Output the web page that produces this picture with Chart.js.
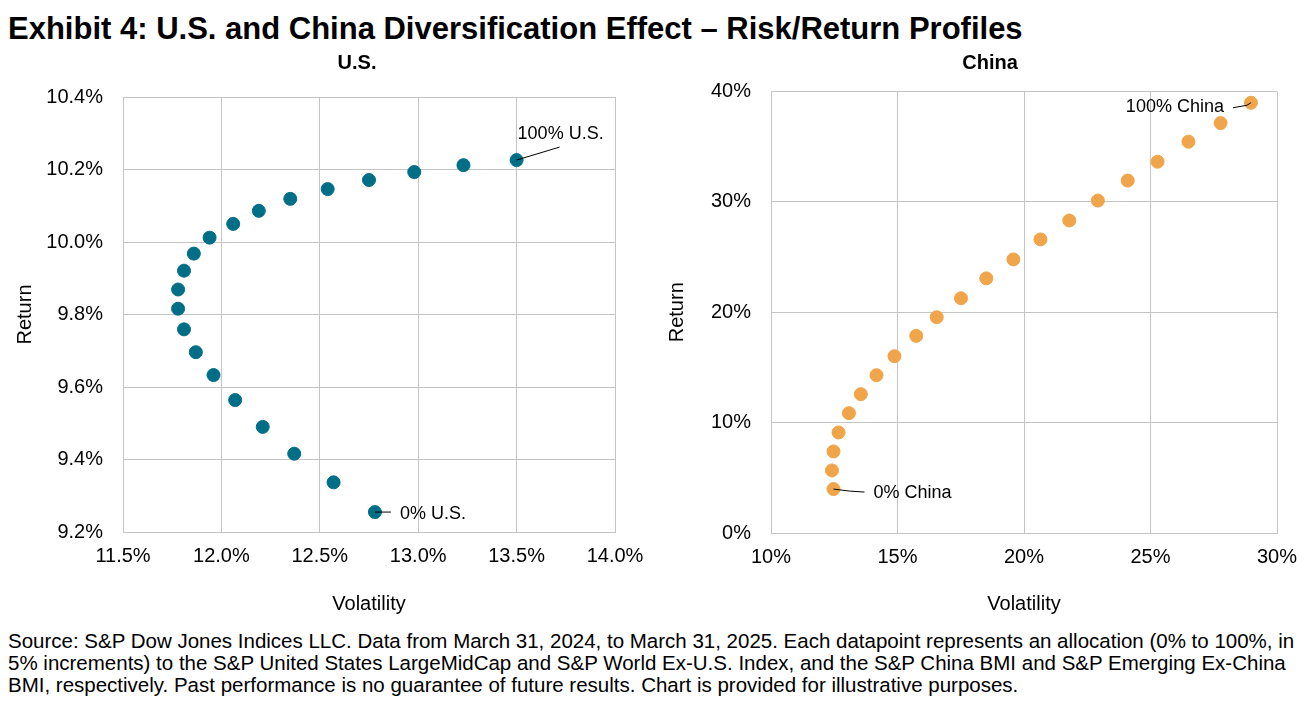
<!DOCTYPE html>
<html>
<head>
<meta charset="utf-8">
<script src="https://cdn.jsdelivr.net/npm/chart.js@4.4.1/dist/chart.umd.min.js"></script>
<style>
  body { margin: 0; background: #fff; font-family: 'Liberation Sans', Arial, sans-serif; color: #000; }
  #page { position: relative; width: 1312px; height: 713px; overflow: hidden; }
  #title { position: absolute; left: 8px; top: 11px; font-size: 31px; line-height: 36px; font-weight: bold; white-space: nowrap; }
  .panel { position: absolute; top: 40px; height: 580px; }
  #panel-us { left: 0; width: 714px; }
  #panel-cn { left: 655px; width: 670px; }
  #source { position: absolute; left: 8px; top: 630px; font-size: 20.5px; line-height: 22px; white-space: nowrap; }
</style>
</head>
<body>
<div id="page">
  <div id="title">Exhibit 4: U.S. and China Diversification Effect – Risk/Return Profiles</div>
  <div class="panel" id="panel-us"><canvas id="us-chart"></canvas></div>
  <div class="panel" id="panel-cn"><canvas id="cn-chart"></canvas></div>
  <div id="source">
    Source: S&amp;P Dow Jones Indices LLC. Data from March 31, 2024, to March 31, 2025. Each datapoint represents an allocation (0% to 100%, in<br>
    5% increments) to the S&amp;P United States LargeMidCap and S&amp;P World Ex-U.S. Index, and the S&amp;P China BMI and S&amp;P Emerging Ex-China<br>
    BMI, respectively. Past performance is no guarantee of future results. Chart is provided for illustrative purposes.
  </div>
</div>

<script>
// Allocations 0% .. 100% in 5% steps
const allocations = [0, 5, 10, 15, 20, 25, 30, 35, 40, 45, 50, 55, 60, 65, 70, 75, 80, 85, 90, 95, 100];

// U.S. panel (volatility %, return %)
const usVolatility = [12.78, 12.57, 12.37, 12.21, 12.07, 11.96, 11.87, 11.81, 11.78, 11.78, 11.81,
  11.86, 11.94, 12.06, 12.19, 12.35, 12.54, 12.75, 12.98, 13.23, 13.50];
const usReturn = [9.255, 9.337, 9.416, 9.490, 9.564, 9.633, 9.696, 9.759, 9.816, 9.869, 9.921,
  9.968, 10.012, 10.050, 10.086, 10.119, 10.146, 10.171, 10.193, 10.212, 10.226];

// China panel (volatility %, return %)
const cnVolatility = [12.47, 12.41, 12.47, 12.67, 13.08, 13.55, 14.17, 14.88, 15.74, 16.55, 17.51,
  18.51, 19.58, 20.65, 21.79, 22.92, 24.10, 25.28, 26.50, 27.77, 28.97];
const cnReturn = [3.98, 5.67, 7.39, 9.11, 10.86, 12.58, 14.30, 16.02, 17.86, 19.55, 21.27,
  23.07, 24.79, 26.60, 28.31, 30.12, 31.93, 33.64, 35.45, 37.14, 38.98];

const FONT = "'Liberation Sans', Arial, sans-serif";
const GRID = '#C4C4C4';

// draws the "0% U.S." style callouts next to the end points
const callouts = {
  id: 'callouts',
  afterDatasetsDraw(chart, args, opts) {
    const ctx = chart.ctx;
    const pts = chart.getDatasetMeta(0).data;
    ctx.save();
    ctx.font = '18px ' + FONT;
    ctx.fillStyle = '#000';
    ctx.strokeStyle = '#000';
    ctx.lineWidth = 1;
    ctx.textBaseline = 'middle';
    (opts.items || []).forEach((item) => {
      const p = pts[item.index];
      ctx.beginPath();
      item.line.forEach(([dx, dy], i) => {
        if (i === 0) ctx.moveTo(p.x + dx, p.y + dy);
        else ctx.lineTo(p.x + dx, p.y + dy);
      });
      ctx.stroke();
      ctx.textAlign = item.align;
      ctx.fillText(item.text, p.x + item.dx, p.y + item.dy);
    });
    ctx.restore();
  }
};

function makeChart(canvasId, title, xs, ys, color, axes, callItems) {
  const points = allocations.map((a, i) => ({ x: xs[i], y: ys[i] }));
  return new Chart(document.getElementById(canvasId), {
    type: 'scatter',
    data: {
      datasets: [{
        data: points,
        backgroundColor: color,
        borderColor: color,
        pointRadius: 6.5,
        pointHoverRadius: 6.5,
      }]
    },
    options: {
      responsive: true,
      maintainAspectRatio: false,
      animation: false,
      events: [],
      plugins: {
        legend: { display: false },
        tooltip: { enabled: false },
        title: {
          display: true,
          text: title,
          color: '#000',
          font: { family: FONT, size: 20, weight: 'bold' },
          padding: { top: 11, bottom: axes.titleGap }
        },
        callouts: { items: callItems }
      },
      scales: {
        x: {
          type: 'linear',
          min: axes.xMin,
          max: axes.xMax,
          grid: { color: GRID, drawTicks: false },
          border: { color: GRID },
          ticks: {
            stepSize: axes.xStep,
            padding: 12,
            color: '#000',
            font: { family: FONT, size: 20 },
            callback: (v) => v.toFixed(axes.xDec) + '%'
          },
          title: {
            display: true,
            text: 'Volatility',
            color: '#000',
            font: { family: FONT, size: 20 },
            padding: { top: 0, bottom: 4 }
          },
          afterFit: (s) => { s.height = axes.xHeight; }
        },
        y: {
          type: 'linear',
          min: axes.yMin,
          max: axes.yMax,
          grid: { color: GRID, drawTicks: false },
          border: { color: GRID },
          ticks: {
            stepSize: axes.yStep,
            padding: 20,
            color: '#000',
            font: { family: FONT, size: 20 },
            callback: (v) => v.toFixed(axes.yDec) + '%'
          },
          title: {
            display: true,
            text: 'Return',
            color: '#000',
            font: { family: FONT, size: 20 },
            padding: { top: axes.yTitlePad, bottom: 0 }
          },
          afterFit: (s) => { s.width = axes.yWidth; }
        },
        // empty right-hand margin so the panel title stays centred like the original
        margin: {
          type: 'linear',
          position: 'right',
          grid: { display: false },
          border: { display: false },
          ticks: { display: false },
          afterFit: (s) => { s.width = axes.rightWidth; }
        }
      }
    },
    plugins: [callouts]
  });
}

makeChart('us-chart', 'U.S.', usVolatility, usReturn, '#006E86', {
  xMin: 11.5, xMax: 14.0, xStep: 0.5, xDec: 1,
  yMin: 9.2, yMax: 10.4, yStep: 0.2, yDec: 1,
  rightWidth: 99, titleGap: 22, xHeight: 88, yWidth: 123, yTitlePad: 13
}, [
  { index: 20, text: '100% U.S.', dx: 1, dy: -26, align: 'left', line: [[0, 0], [43, -13]] },
  { index: 0, text: '0% U.S.', dx: 25, dy: 2, align: 'left', line: [[0, 0], [16, 0]] }
]);

makeChart('cn-chart', 'China', cnVolatility, cnReturn, '#F0A54A', {
  xMin: 10, xMax: 30, xStep: 5, xDec: 0,
  yMin: 0, yMax: 40, yStep: 10, yDec: 0,
  rightWidth: 48, titleGap: 16.5, xHeight: 87, yWidth: 116, yTitlePad: 10
}, [
  { index: 20, text: '100% China', dx: -27, dy: 4.5, align: 'right', line: [[-18, 5], [-4, 2.5], [0, 0]] },
  { index: 0, text: '0% China', dx: 40, dy: 4, align: 'left', line: [[0, 0], [16, 2], [31, 3]] }
]);
</script>
</body>
</html>
